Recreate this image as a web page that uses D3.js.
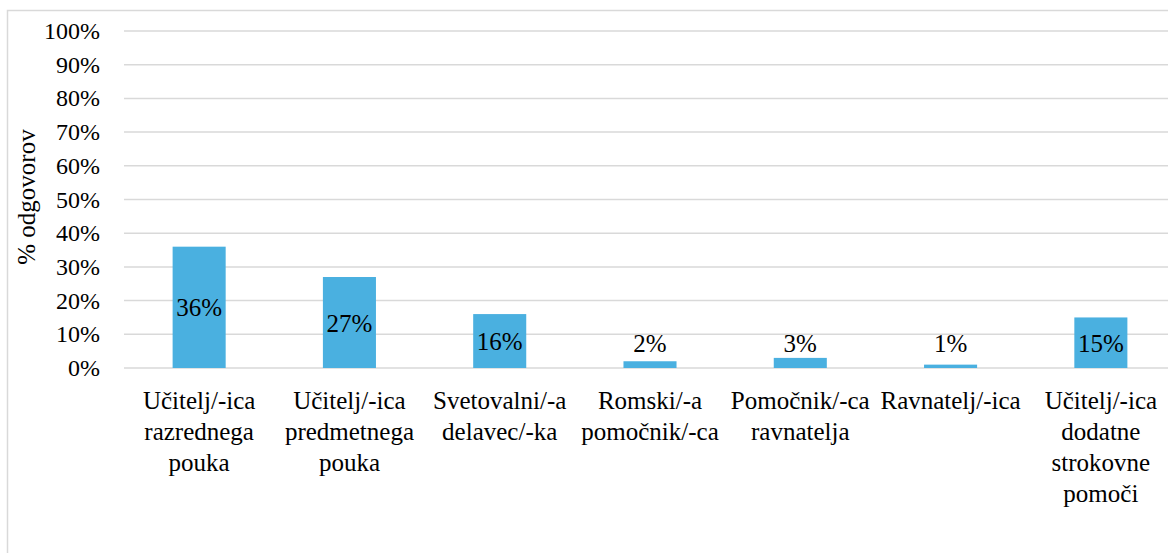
<!DOCTYPE html>
<html>
<head>
<meta charset="UTF-8">
<script src="https://d3js.org/d3.v7.min.js"></script>
<style>
  body { margin: 0; overflow: hidden; }
  text { font-family: 'Liberation Serif', Tinos, serif; }
</style>
</head>
<body>
<script>
// data
var categories = [
  ["Učitelj/-ica", "razrednega", "pouka"],
  ["Učitelj/-ica", "predmetnega", "pouka"],
  ["Svetovalni/-a", "delavec/-ka"],
  ["Romski/-a", "pomočnik/-ca"],
  ["Pomočnik/-ca", "ravnatelja"],
  ["Ravnatelj/-ica"],
  ["Učitelj/-ica", "dodatne", "strokovne", "pomoči"]
];
var values = [36, 27, 16, 2, 3, 1, 15];
var yTicks = [0, 10, 20, 30, 40, 50, 60, 70, 80, 90, 100];

var margin = { top: 31, left: 124 },
  width = 1176 - margin.left,
  height = 368 - margin.top;

var svg = d3.select("body").append("svg")
  .attr("width", 1168)
  .attr("height", 553)
  .attr("font-family", "Liberation Serif");

// chart border
svg.append("rect")
  .attr("x", 7.5).attr("y", 10.5)
  .attr("width", 1200).attr("height", 600)
  .attr("fill", "none")
  .attr("stroke", "#d9d9d9")
  .attr("stroke-width", 1.5);

var g = svg.append("g")
  .attr("transform", "translate(" + margin.left + "," + margin.top + ")");

var x = d3.scaleBand()
  .domain(d3.range(categories.length))
  .range([0, width])
  .paddingInner(0.647)
  .paddingOuter(0.3235);

var y = d3.scaleLinear().domain([0, 100]).range([height, 0]);

// gridlines
g.selectAll(".grid")
  .data(yTicks)
  .enter().append("line")
  .attr("x1", 0).attr("x2", width)
  .attr("y1", function (d) { return y(d); })
  .attr("y2", function (d) { return y(d); })
  .attr("stroke", "#d9d9d9")
  .attr("stroke-width", 1.5);

// y tick labels
g.selectAll(".ytick")
  .data(yTicks)
  .enter().append("text")
  .attr("x", -24)
  .attr("y", function (d) { return y(d) + 8; })
  .attr("text-anchor", "end")
  .attr("font-family", "Liberation Serif")
  .attr("style", "font-family: 'Liberation Serif'; font-size: 24px")
  .text(function (d) { return d + "%"; });

// bars
g.selectAll(".bar")
  .data(values)
  .enter().append("rect")
  .attr("class", "bar")
  .attr("x", function (d, i) { return x(i); })
  .attr("y", function (d) { return y(d); })
  .attr("width", x.bandwidth())
  .attr("height", function (d) { return height - y(d); })
  .attr("fill", "#4AB0E0");

// value labels: centred in bar, kept above the axis for short bars
g.selectAll(".vlabel")
  .data(values)
  .enter().append("text")
  .attr("x", function (d, i) { return x(i) + x.bandwidth() / 2; })
  .attr("y", function (d) { return Math.min(y(d / 2), height - 25) + 9; })
  .attr("text-anchor", "middle")
  .attr("font-family", "Liberation Serif")
  .attr("style", "font-family: 'Liberation Serif'; font-size: 25px")
  .text(function (d) { return d + "%"; });

// category labels, one tspan per line
var cat = g.selectAll(".cat")
  .data(categories)
  .enter().append("text")
  .attr("text-anchor", "middle")
  .attr("font-family", "Liberation Serif")
  .attr("style", "font-family: 'Liberation Serif'; font-size: 25px")
  .attr("transform", function (d, i) {
    return "translate(" + (x(i) + x.bandwidth() / 2) + "," + (height + 41) + ")";
  });
cat.selectAll("tspan")
  .data(function (d) { return d; })
  .enter().append("tspan")
  .attr("x", 0)
  .attr("y", function (d, j) { return j * 31; })
  .text(function (d) { return d; });

// Y axis title
svg.append("text")
  .attr("transform", "translate(35,197) rotate(-90)")
  .attr("text-anchor", "middle")
  .attr("font-family", "Liberation Serif")
  .attr("style", "font-family: 'Liberation Serif'; font-size: 25px")
  .text("% odgovorov");
</script>
</body>
</html>
